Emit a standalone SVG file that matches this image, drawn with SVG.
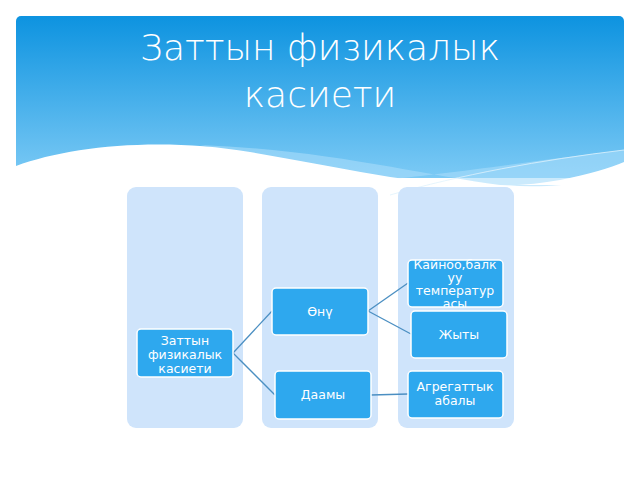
<svg xmlns="http://www.w3.org/2000/svg" width="640" height="480" viewBox="0 0 640 480">
<defs>
<linearGradient id="hg" x1="0" y1="0" x2="0" y2="1"><stop offset="0" stop-color="#0d93e0"/><stop offset="1" stop-color="#7ccaf5"/></linearGradient>
<style>
.col{fill:#cfe4fb}
.nd{fill:#2ea8ee;stroke:#fff;stroke-width:1.5}
.t{font-family:"DejaVu Sans",sans-serif;font-size:12.5px;fill:#fff;text-anchor:middle}
.cn{stroke:#4b8fc2;stroke-width:1.3;fill:none}
</style>
<clipPath id="kc"><rect x="408" y="260" width="95" height="47" rx="4"/></clipPath>
</defs>
<rect width="640" height="480" fill="#fff"/>
<rect x="16" y="16" width="608" height="162" rx="5" fill="url(#hg)"/>
<path d="M200,145 C330,150 420,175 500,185 C560,190 600,180 624,172 L624,150 C540,160 440,175 380,180" fill="#a8dcfa" opacity="0.6"/>
<path d="M16,166 C70,146 160,137 250,152 C360,170 460,198 560,180 C590,174 610,168 624,162 L624,185 L16,185 Z" fill="#fff"/>
<path d="M390,195 C460,175 540,160 624,150" stroke="#e0f3fd" stroke-width="0.8" fill="none"/>
<text x="320" y="60" font-family="DejaVu Sans,sans-serif" font-weight="200" font-size="36" fill="#fff" text-anchor="middle">Заттын физикалык</text>
<text x="320" y="107" font-family="DejaVu Sans,sans-serif" font-weight="200" font-size="36" fill="#fff" text-anchor="middle">касиети</text>
<rect class="col" x="127" y="187" width="116" height="241" rx="9"/>
<rect class="col" x="262" y="187" width="116" height="241" rx="9"/>
<rect class="col" x="398" y="187" width="116" height="241" rx="9"/>
<g id="connectors">
<path class="cn" d="M233,353 L272,311"/>
<path class="cn" d="M233,353 L275,395"/>
<path class="cn" d="M368,311 L408,283"/>
<path class="cn" d="M368,311 L411,334"/>
<path class="cn" d="M371,395 L408,394"/>
</g>
<g id="n1"><rect class="nd" x="137" y="329" width="96" height="48" rx="4"/><text class="t" x="185" y="345">Заттын</text><text class="t" x="185" y="359">физикалык</text><text class="t" x="185" y="373">касиети</text></g>
<g id="n2"><rect class="nd" x="272" y="288" width="96" height="47" rx="4"/><text class="t" x="320" y="316">Өнү</text></g>
<g id="n3"><rect class="nd" x="275" y="371" width="96" height="48" rx="4"/><text class="t" x="323" y="399">Даамы</text></g>
<g id="n4"><rect class="nd" x="408" y="260" width="95" height="47" rx="4"/><text class="t" x="455" y="269">Кайноо,балк</text><text class="t" x="455" y="282">уу</text><text class="t" x="455" y="295">температур</text><text class="t" x="455" y="308" clip-path="url(#kc)">асы</text></g>
<g id="n5"><rect class="nd" x="411" y="311" width="96" height="47" rx="4"/><text class="t" x="459" y="339">Жыты</text></g>
<g id="n6"><rect class="nd" x="408" y="371" width="95" height="47" rx="4"/><text class="t" x="455" y="391">Агрегаттык</text><text class="t" x="455" y="405">абалы</text></g>
</svg>
